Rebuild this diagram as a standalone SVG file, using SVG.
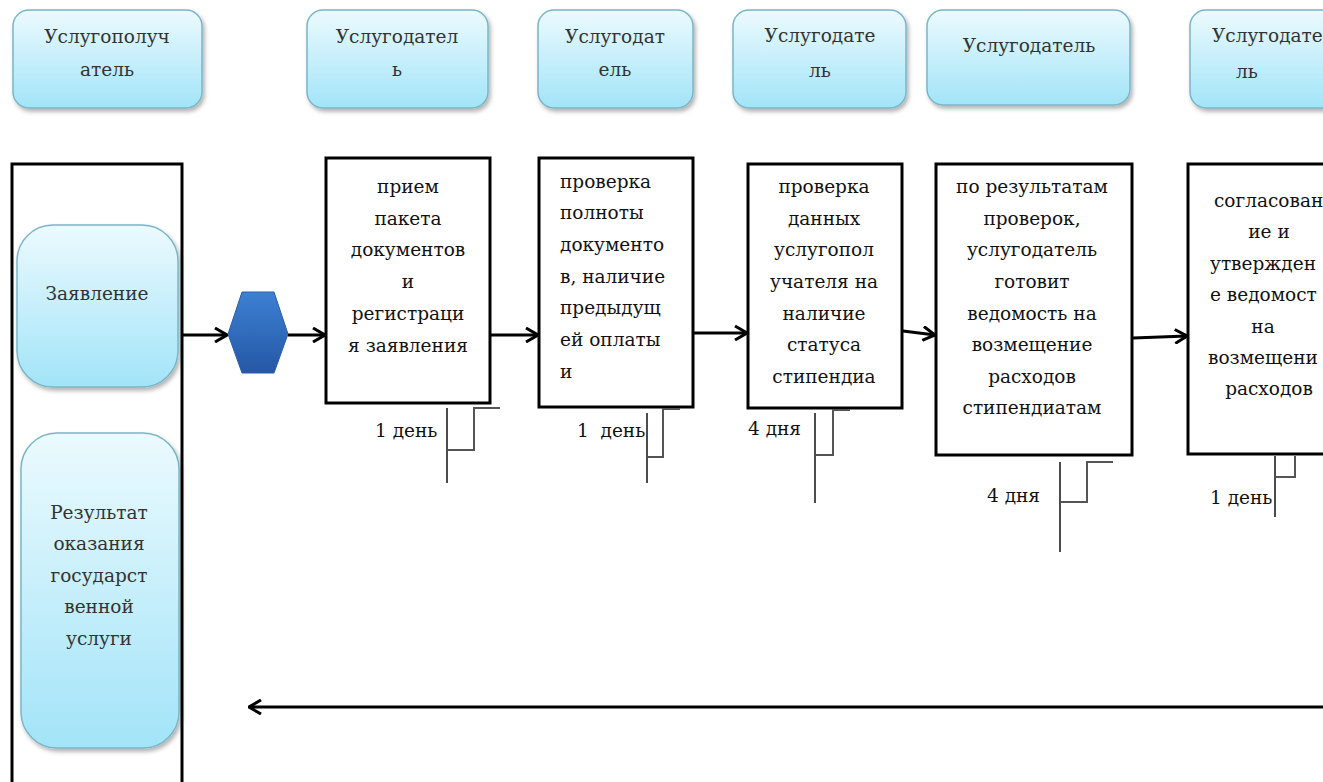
<svg xmlns="http://www.w3.org/2000/svg" width="1323" height="782" viewBox="0 0 1323 782">
<style>
  text { font-family: 'DejaVu Serif', 'Liberation Serif', serif; font-size: 18.5px; fill: #111; }
  .c { text-anchor: middle; }
  .hdr text, .doc text { fill: #333; }
  .cyan { fill: url(#cyanGrad); stroke: #78b6c8; stroke-width: 1.5; filter: url(#shadow); }
  .proc { fill: #fff; stroke: #000; stroke-width: 3; }
  .lane { fill: none; stroke: #000; stroke-width: 3; }
  .flow { fill: none; stroke: #000; stroke-width: 3; marker-end: url(#arrow); }
  .tick { fill: none; stroke: #111; stroke-width: 1.5; }
  .brk { fill: none; stroke: #555; stroke-width: 2; }
</style>
<defs>
  <linearGradient id="cyanGrad" x1="0" y1="0" x2="0" y2="1">
    <stop offset="0" stop-color="#ecfafe"/>
    <stop offset="1" stop-color="#a2e4f8"/>
  </linearGradient>
  <linearGradient id="hexGrad" x1="0" y1="0" x2="0" y2="1">
    <stop offset="0" stop-color="#3d80d2"/>
    <stop offset="1" stop-color="#2557a6"/>
  </linearGradient>
  <filter id="shadow" x="-10%" y="-10%" width="125%" height="130%">
    <feDropShadow dx="2" dy="3" stdDeviation="2" flood-color="#000" flood-opacity="0.3"/>
  </filter>
  <marker id="arrow" viewBox="0 0 14 16" refX="13" refY="8" markerWidth="14" markerHeight="16" markerUnits="userSpaceOnUse" orient="auto">
    <path d="M1,1 L13,8 L1,15" fill="none" stroke="#000" stroke-width="3"/>
  </marker>
</defs>
<rect width="1323" height="782" fill="#fff"/>

<!-- header swimlane titles -->
<g id="hdr1" class="hdr">
  <rect class="cyan" x="13" y="10" width="189" height="98" rx="16"/>
  <text class="c" x="107" y="43">Услугополуч</text>
  <text class="c" x="107" y="76">атель</text>
</g>
<g id="hdr2" class="hdr">
  <rect class="cyan" x="307" y="10" width="181" height="98" rx="16"/>
  <text class="c" x="397" y="43">Услугодател</text>
  <text class="c" x="397" y="76">ь</text>
</g>
<g id="hdr3" class="hdr">
  <rect class="cyan" x="538" y="10" width="155" height="98" rx="16"/>
  <text class="c" x="615" y="43">Услугодат</text>
  <text class="c" x="615" y="76">ель</text>
</g>
<g id="hdr4" class="hdr">
  <rect class="cyan" x="733" y="10" width="173" height="98" rx="16"/>
  <text class="c" x="820" y="42">Услугодате</text>
  <text class="c" x="820" y="77">ль</text>
</g>
<g id="hdr5" class="hdr">
  <rect class="cyan" x="927" y="10" width="203" height="95" rx="16"/>
  <text class="c" x="1029" y="52">Услугодатель</text>
</g>
<g id="hdr6" class="hdr">
  <rect class="cyan" x="1190" y="10" width="180" height="98" rx="16"/>
  <text x="1212" y="42">Услугодате</text>
  <text class="c" x="1247" y="78">ль</text>
</g>

<!-- service recipient lane -->
<g id="lane">
  <rect class="lane" x="12" y="164" width="170" height="640"/>
</g>
<g id="doc1" class="doc">
  <rect class="cyan" x="17" y="225" width="161" height="162" rx="36"/>
  <text class="c" x="97" y="300">Заявление</text>
</g>
<g id="doc2" class="doc">
  <rect class="cyan" x="21" y="433" width="158" height="315" rx="36"/>
  <text class="c" x="99" y="519">Результат</text>
  <text class="c" x="99" y="550">оказания</text>
  <text class="c" x="99" y="582">государст</text>
  <text class="c" x="99" y="613">венной</text>
  <text class="c" x="99" y="645">услуги</text>
</g>

<!-- start hexagon -->
<g id="start">
  <polygon points="228,334 242,292 274,292 288,334 274,373 242,373" fill="url(#hexGrad)" stroke="#2a5ea8" stroke-width="1"/>
</g>

<!-- process steps -->
<g id="step1">
  <rect class="proc" x="326" y="158" width="164" height="245"/>
  <text class="c" x="408" y="193">прием</text>
  <text class="c" x="408" y="225">пакета</text>
  <text class="c" x="408" y="256">документов</text>
  <text class="c" x="408" y="288">и</text>
  <text class="c" x="408" y="320">регистраци</text>
  <text class="c" x="408" y="352">я заявления</text>
</g>
<g id="step2">
  <rect class="proc" x="539" y="158" width="154" height="249"/>
  <text x="560" y="188">проверка</text>
  <text x="560" y="219">полноты</text>
  <text x="560" y="251">документо</text>
  <text x="560" y="283">в, наличие</text>
  <text x="560" y="314">предыдущ</text>
  <text x="560" y="346">ей оплаты</text>
  <text x="560" y="378">и</text>
</g>
<g id="step3">
  <rect class="proc" x="748" y="164" width="154" height="244"/>
  <text class="c" x="824" y="193">проверка</text>
  <text class="c" x="824" y="225">данных</text>
  <text class="c" x="824" y="256">услугопол</text>
  <text class="c" x="824" y="288">учателя на</text>
  <text class="c" x="824" y="320">наличие</text>
  <text class="c" x="824" y="351">статуса</text>
  <text class="c" x="824" y="383">стипендиа</text>
</g>
<g id="step4">
  <rect class="proc" x="936" y="164" width="196" height="291"/>
  <text class="c" x="1032" y="193">по результатам</text>
  <text class="c" x="1032" y="225">проверок,</text>
  <text class="c" x="1032" y="256">услугодатель</text>
  <text class="c" x="1032" y="288">готовит</text>
  <text class="c" x="1032" y="320">ведомость на</text>
  <text class="c" x="1032" y="351">возмещение</text>
  <text class="c" x="1032" y="383">расходов</text>
  <text class="c" x="1032" y="414">стипендиатам</text>
</g>
<g id="step5">
  <rect class="proc" x="1188" y="164" width="200" height="290"/>
  <text x="1214" y="207">согласован</text>
  <text class="c" x="1269" y="238">ие и</text>
  <text x="1210" y="270">утвержден</text>
  <text x="1210" y="301">е ведомост</text>
  <text class="c" x="1263" y="333">на</text>
  <text x="1208" y="364">возмещени</text>
  <text class="c" x="1269" y="395">расходов</text>
</g>

<!-- durations -->
<g id="dur1">
  <line class="tick" x1="447" y1="408" x2="447" y2="483"/>
  <polyline class="brk" points="448,450 474,450 474,408 500,408"/>
  <text x="375" y="437">1 день</text>
</g>
<g id="dur2">
  <line class="tick" x1="647" y1="413" x2="647" y2="483"/>
  <polyline class="brk" points="648,457 663,457 663,409 680,409"/>
  <text x="577" y="437" xml:space="preserve">1  день</text>
</g>
<g id="dur3">
  <line class="tick" x1="815" y1="413" x2="815" y2="503"/>
  <polyline class="brk" points="816,455 833,455 833,410 850,410"/>
  <text x="748" y="435">4 дня</text>
</g>
<g id="dur4">
  <line class="tick" x1="1060" y1="462" x2="1060" y2="552"/>
  <polyline class="brk" points="1061,502 1087,502 1087,462 1113,462"/>
  <text x="987" y="502">4 дня</text>
</g>
<g id="dur5">
  <line class="tick" x1="1275" y1="456" x2="1275" y2="517"/>
  <polyline class="brk" points="1276,477 1295,477 1295,456"/>
  <text x="1210" y="504">1 день</text>
</g>

<!-- connectors -->
<g id="connectors">
  <line class="flow" x1="183" y1="335" x2="227" y2="335"/>
  <line class="flow" x1="288" y1="335" x2="325" y2="335"/>
  <line class="flow" x1="491" y1="335" x2="538" y2="335"/>
  <line class="flow" x1="694" y1="333" x2="747" y2="333"/>
  <line class="flow" x1="903" y1="331" x2="935" y2="335"/>
  <line class="flow" x1="1133" y1="338" x2="1187" y2="336"/>
  <line class="flow" x1="1323" y1="707" x2="249" y2="707"/>
</g>
</svg>
